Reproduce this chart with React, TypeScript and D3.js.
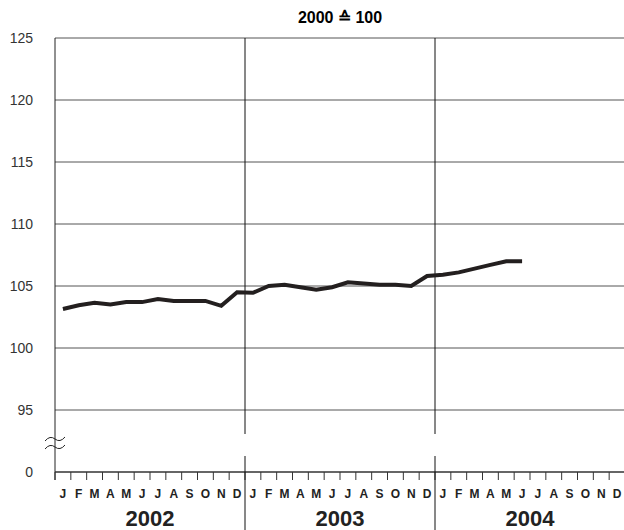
import React from "react";
import * as d3 from "d3";

const years = ["2002", "2003", "2004"];
const monthLetters = ["J","F","M","A","M","J","J","A","S","O","N","D"];
const yTicks = [95, 100, 105, 110, 115, 120, 125];
const values = [103.15,103.45,103.65,103.5,103.7,103.7,103.95,103.8,103.8,103.8,103.4,104.5,
  104.45,105.0,105.1,104.9,104.7,104.9,105.3,105.2,105.1,105.1,105.0,105.8,
  105.9,106.1,106.4,106.7,107.0,107.0];

export default function App() {
  const W = 624, H = 530;
  const left = 55, right = 625, top = 38;
  const y = d3.scaleLinear().domain([95, 125]).range([410, top]);
  const zeroY = 472;
  const x = d3.scaleLinear().domain([0, 36]).range([left, right]);
  const line = d3.line<number>().x((_, i) => x(i + 0.5)).y(d => y(d));
  const font = "Arial, 'Liberation Sans', sans-serif";
  return (
    <svg width={W} height={H} style={{ position: "absolute", left: 0, top: 0 }} fontFamily={font}>
      <text x={340} y={23} textAnchor="middle" fontSize={16} fontWeight="bold">2000 ≙ 100</text>
      {yTicks.map(t => (
        <g key={t}>
          <line x1={left} x2={right} y1={y(t)} y2={y(t)} stroke="#555" strokeWidth={1} />
          <text x={33} y={y(t) + 5} textAnchor="end" fontSize={14} fill="#333">{t}</text>
        </g>
      ))}
      <text x={33} y={zeroY + 5} textAnchor="end" fontSize={14} fill="#333">0</text>
      <line x1={left} x2={left} y1={top} y2={zeroY + 8} stroke="#222" />
      <path d="M45,441 q5,-6 10,-2 t10,-2 M45,449 q5,-6 10,-2 t10,-2" fill="none" stroke="#222" strokeWidth={1} />
      <line x1={left} x2={right} y1={zeroY} y2={zeroY} stroke="#333" strokeWidth={1.5} />
      {d3.range(37).map(i => (
        <line key={i} x1={x(i)} x2={x(i)} y1={zeroY} y2={zeroY + 8} stroke="#333" />
      ))}
      {[12, 24].map(i => (
        <g key={i}>
          <line x1={x(i)} x2={x(i)} y1={top} y2={434} stroke="#111" />
          <line x1={x(i)} x2={x(i)} y1={456} y2={H} stroke="#111" />
        </g>
      ))}
      {d3.range(36).map(i => (
        <text key={i} x={x(i + 0.5)} y={498} textAnchor="middle" fontSize={12} fontWeight="bold" fill="#222">
          {monthLetters[i % 12]}
        </text>
      ))}
      {years.map((yr, k) => (
        <text key={yr} x={x(k * 12 + 6)} y={526} textAnchor="middle" fontSize={22} fontWeight="bold" fill="#222">{yr}</text>
      ))}
      <path d={line(values) || ""} fill="none" stroke="#231f1f" strokeWidth={4} strokeLinejoin="miter" />
    </svg>
  );
}
